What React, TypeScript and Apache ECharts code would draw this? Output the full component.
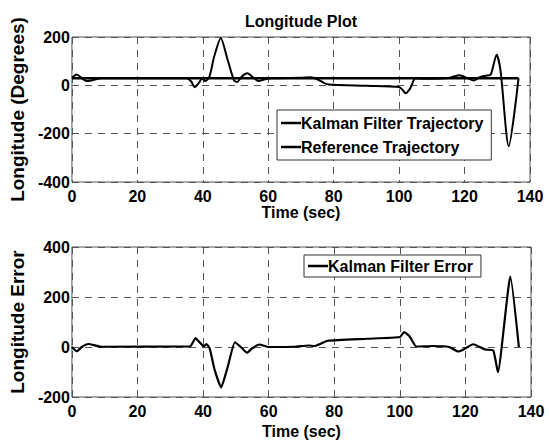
import React, { useEffect, useRef } from "react";
import * as echarts from "echarts";

const xTicks = [0, 20, 40, 60, 80, 100, 120, 140];

const refTime = [0, 136.5];
const refValue = [29, 29];

const kalmanTime = [0, 1.5, 3, 4.5, 6.5, 9, 35, 36.5, 37.5, 38.8, 39.8, 40.8, 42, 43.5, 45.5, 47.5, 49.5, 50.5, 52, 53.6, 55.5, 57, 59, 61, 70, 73, 75, 77, 78.5, 90, 100, 101, 102, 103.5, 105, 110, 115, 118.3, 120, 122.8, 124.5, 126.5, 128, 129.8, 131, 133.5, 136.5];
const kalmanValue = [32, 45, 30, 18, 22, 29, 29, 15, -8, 10, 28, 18, 35, 120, 195, 110, 22, 14, 38, 50, 32, 18, 25, 29, 31, 33, 25, 10, 3, -2, -7, -18, -33, -10, 28, 27, 30, 42, 35, 20, 33, 40, 45, 127, 60, -252, 30];

const errTime = [0, 1.5, 3, 5, 9, 36, 37.7, 39, 40.2, 41, 42, 43.5, 45.5, 47.5, 49.7, 51.5, 53.4, 55, 57.2, 60, 68, 72, 74, 76, 78, 90, 100, 101.3, 103, 105, 110, 115, 117.8, 119, 122.4, 126, 128.5, 129.9, 133.7, 136.3];
const errValue = [0, -17, 0, 12, 1, 2, 36, 18, 2, 12, -5, -90, -162, -80, 19, 0, -23, -5, 10, 0, 1, 6, 4, 14, 25, 33, 40, 60, 42, 2, 4, 0, -18, -13, 11, -10, -14, -101, 282, 0];

const pair = (t: number[], v: number[]) => t.map((x, i) => [x, v[i]]);

const FONT = "'Liberation Sans', Arial, sans-serif";

export default function App() {
  const ref = useRef<HTMLDivElement>(null);
  useEffect(() => {
    if (!ref.current) return;
    const chart = echarts.init(ref.current, null, { renderer: "svg" });
    const grid = (left: number, top: number, height: number) => ({
      left,
      top,
      width: 468,
      height,
      show: true,
      borderColor: "#555",
      borderWidth: 1,
      backgroundColor: "#fff",
    });
    const xAxis = (gridIndex: number, nameGap: number) => ({
      type: "value",
      gridIndex,
      min: xTicks[0],
      max: xTicks[xTicks.length - 1],
      interval: 20,
      name: "Time (sec)",
      nameLocation: "middle",
      nameGap,
      nameTextStyle: { fontFamily: FONT, fontWeight: "bold", fontSize: 16, color: "#000" },
      axisLine: { show: false },
      axisTick: { show: false },
      axisLabel: { fontFamily: FONT, fontWeight: "bold", fontSize: 16, color: "#000", margin: 6 },
      splitLine: { show: true, lineStyle: { type: [7, 6], color: "#555", width: 1 } },
    });
    const yAxis = (gridIndex: number, name: string, min: number, max: number) => ({
      type: "value",
      gridIndex,
      min,
      max,
      interval: 200,
      name,
      nameLocation: "middle",
      nameGap: 34,
      nameTextStyle: { fontFamily: FONT, fontWeight: "bold", fontSize: 19, color: "#000" },
      axisLine: { show: false },
      axisTick: { show: false },
      axisLabel: { fontFamily: FONT, fontWeight: "bold", fontSize: 16, color: "#000", margin: 2 },
      splitLine: { show: true, lineStyle: { type: [7, 6], color: "#555", width: 1 } },
    });
    const legendBase = {
      orient: "vertical",
      backgroundColor: "#fff",
      borderColor: "#333",
      borderWidth: 1,
      borderRadius: 0,
      icon: "rect",
      itemWidth: 20,
      itemHeight: 2.5,
      itemGap: 8,
      textStyle: { fontFamily: FONT, fontWeight: "bold", fontSize: 16, color: "#000", padding: [0, 0, 0, -5] },
    };
    chart.setOption({
      animation: false,
      backgroundColor: "#fff",
      title: {
        text: "Longitude Plot",
        left: 296,
        textAlign: "center",
        top: 8,
        textStyle: { fontFamily: FONT, fontWeight: "bold", fontSize: 16, color: "#000" },
      },
      grid: [grid(62, 37, 145), grid(63, 247, 150)],
      xAxis: [xAxis(0, 22), xAxis(1, 26)],
      yAxis: [yAxis(0, "Longitude (Degrees)", -400, 200), yAxis(1, "Longitude Error", -200, 400)],
      legend: [
        {
          ...legendBase,
          left: 277,
          top: 110,
          padding: [5, 8, 5, 4],
          data: ["Kalman Filter Trajectory", "Reference Trajectory"],
        },
        {
          ...legendBase,
          left: 304,
          top: 255,
          padding: [3, 8, 3, 4],
          data: ["Kalman Filter Error"],
        },
      ],
      series: [
        {
          name: "Reference Trajectory",
          type: "line",
          xAxisIndex: 0,
          yAxisIndex: 0,
          data: pair(refTime, refValue),
          showSymbol: false,
          lineStyle: { color: "#000", width: 2.5 },
          itemStyle: { color: "#000" },
        },
        {
          name: "Kalman Filter Trajectory",
          type: "line",
          xAxisIndex: 0,
          yAxisIndex: 0,
          data: pair(kalmanTime, kalmanValue),
          showSymbol: false,
          smooth: 0.25,
          lineStyle: { color: "#000", width: 2 },
          itemStyle: { color: "#000" },
        },
        {
          name: "Kalman Filter Error",
          type: "line",
          xAxisIndex: 1,
          yAxisIndex: 1,
          data: pair(errTime, errValue),
          showSymbol: false,
          smooth: 0.15,
          lineStyle: { color: "#000", width: 2.2 },
          itemStyle: { color: "#000" },
        },
      ],
    });
    return () => chart.dispose();
  }, []);
  return <div ref={ref} style={{ width: 549, height: 443, position: "absolute", left: 0, top: 0 }} />;
}
